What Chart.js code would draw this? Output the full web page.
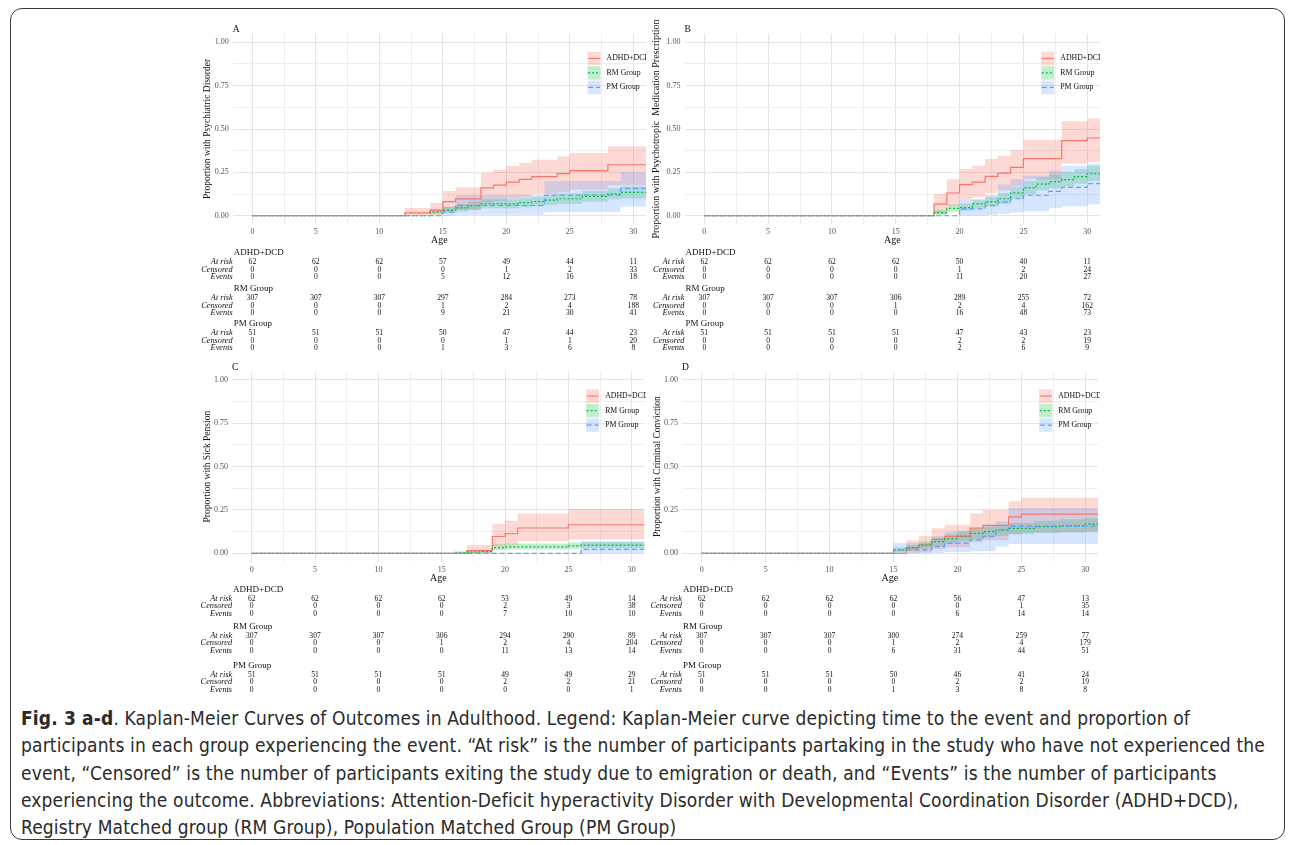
<!DOCTYPE html>
<html>
<head>
<meta charset="utf-8">
<script src="https://cdn.jsdelivr.net/npm/chart.js@4"></script>
<style>
  body { margin: 0; width: 1295px; height: 845px; background: #fff; position: relative; overflow: hidden; }
  .frame { position: absolute; left: 10px; top: 8px; width: 1275px; height: 832px; box-sizing: border-box;
           border: 1.5px solid #3a3a3a; border-radius: 12px; }
  canvas { position: absolute; }
  .caption { position: absolute; left: 21px; top: 705px; font-family: "Liberation Sans Narrow", "DejaVu Sans Condensed", "Liberation Sans", sans-serif;
             font-size: 19px; letter-spacing: 0.15px; line-height: 27.3px; color: #2a2a2a; white-space: nowrap; }
</style>
</head>
<body>
<div class="frame"></div>
<canvas id="cA" width="451" height="345" style="left:195px;top:15px"></canvas>
<canvas id="cB" width="452" height="345" style="left:648px;top:15px"></canvas>
<canvas id="cC" width="451" height="342" style="left:195px;top:356px"></canvas>
<canvas id="cD" width="452" height="342" style="left:648px;top:356px"></canvas>
<div class="caption" id="caption"><b>Fig. 3 a-d</b>. Kaplan-Meier Curves of Outcomes in Adulthood. Legend: Kaplan-Meier curve depicting time to the event and proportion of<br>participants in each group experiencing the event. “At risk” is the number of participants partaking in the study who have not experienced the<br>event, “Censored” is the number of participants exiting the study due to emigration or death, and “Events” is the number of participants<br>experiencing the outcome. Abbreviations: Attention-Deficit hyperactivity Disorder with Developmental Coordination Disorder (ADHD+DCD),<br>Registry Matched group (RM Group), Population Matched Group (PM Group)</div>
<script>
// ---- labels / ticks ----
const ages = [0, 5, 10, 15, 20, 25, 30];
const groupNames = ['ADHD+DCD', 'RM Group', 'PM Group'];
const riskRowNames = ['At risk', 'Censored', 'Events'];
const panelLetters = ['A', 'B', 'C', 'D'];
const yTitles = [
  'Proportion with Psychiatric Disorder',
  'Proportion with Psychotropic  Medication Prescription',
  'Proportion with Sick Pension',
  'Proportion with Criminal Conviction'
];
const xGridVals = [0, 2.5, 5, 7.5, 10, 12.5, 15, 17.5, 20, 22.5, 25, 27.5, 30];
const xLabelVals = [0, 5, 10, 15, 20, 25, 30];
const yGridVals = [0, 0.125, 0.25, 0.375, 0.5, 0.625, 0.75, 0.875, 1];
const yLabelVals = [0, 0.25, 0.5, 0.75, 1];

// ---- A: psychiatric disorder ----
const psychAdhdT   = [0, 12, 14, 15, 16, 18, 19, 20, 21, 22, 24, 25, 28];
const psychAdhdEst = [0, 0.016, 0.032, 0.081, 0.097, 0.161, 0.177, 0.194, 0.210, 0.226, 0.243, 0.260, 0.294];
const psychAdhdLo  = [0, 0, 0, 0.025, 0.035, 0.075, 0.085, 0.10, 0.11, 0.125, 0.135, 0.15, 0.175];
const psychAdhdHi  = [0, 0.044, 0.073, 0.143, 0.164, 0.248, 0.265, 0.286, 0.304, 0.323, 0.342, 0.362, 0.40];
const psychRmT     = [0, 14, 15, 16, 17, 18, 21, 22, 23, 24, 26, 28, 29];
const psychRmEst   = [0, 0.022, 0.031, 0.045, 0.058, 0.068, 0.076, 0.082, 0.09, 0.098, 0.112, 0.126, 0.135];
const psychRmLo    = [0, 0.008, 0.014, 0.024, 0.035, 0.043, 0.049, 0.055, 0.062, 0.068, 0.08, 0.094, 0.10];
const psychRmHi    = [0, 0.038, 0.05, 0.068, 0.083, 0.095, 0.103, 0.11, 0.12, 0.128, 0.143, 0.158, 0.168];
const psychPmT     = [0, 15, 16, 23, 29];
const psychPmEst   = [0, 0.02, 0.059, 0.118, 0.158];
const psychPmLo    = [0, 0, 0.006, 0.022, 0.052];
const psychPmHi    = [0, 0.055, 0.12, 0.20, 0.25];
const psychAdhdRisk = [[62, 62, 62, 57, 49, 44, 11], [0, 0, 0, 0, 1, 2, 33], [0, 0, 0, 5, 12, 16, 18]];
const psychRmRisk   = [[307, 307, 307, 297, 284, 273, 78], [0, 0, 0, 1, 2, 4, 188], [0, 0, 0, 9, 21, 30, 41]];
const psychPmRisk   = [[51, 51, 51, 50, 47, 44, 23], [0, 0, 0, 0, 1, 1, 20], [0, 0, 0, 1, 3, 6, 8]];

// ---- B: psychotropic medication ----
const medsAdhdT   = [0, 18, 19, 20, 21, 22, 23, 24, 25, 28, 30];
const medsAdhdEst = [0, 0.067, 0.131, 0.179, 0.194, 0.227, 0.246, 0.279, 0.329, 0.433, 0.448];
const medsAdhdLo  = [0, 0.01, 0.055, 0.09, 0.105, 0.13, 0.145, 0.17, 0.21, 0.30, 0.31];
const medsAdhdHi  = [0, 0.125, 0.21, 0.27, 0.288, 0.327, 0.346, 0.38, 0.438, 0.544, 0.56];
const medsRmT     = [0, 18, 19, 20, 21, 22, 23, 24, 25, 26, 27, 28, 29, 30];
const medsRmEst   = [0, 0.018, 0.042, 0.047, 0.068, 0.08, 0.098, 0.132, 0.16, 0.182, 0.197, 0.208, 0.226, 0.242];
const medsRmLo    = [0, 0.006, 0.022, 0.027, 0.042, 0.052, 0.068, 0.10, 0.124, 0.145, 0.158, 0.168, 0.185, 0.20];
const medsRmHi    = [0, 0.035, 0.065, 0.07, 0.095, 0.11, 0.13, 0.165, 0.20, 0.22, 0.237, 0.25, 0.27, 0.287];
const medsPmT     = [0, 20, 22, 23, 24, 25, 27, 28, 30];
const medsPmEst   = [0, 0.039, 0.059, 0.078, 0.098, 0.118, 0.14, 0.163, 0.185];
const medsPmLo    = [0, 0.002, 0.006, 0.012, 0.02, 0.025, 0.044, 0.054, 0.065];
const medsPmHi    = [0, 0.09, 0.12, 0.18, 0.21, 0.23, 0.26, 0.288, 0.30];
const medsAdhdRisk = [[62, 62, 62, 62, 50, 40, 11], [0, 0, 0, 0, 1, 2, 24], [0, 0, 0, 0, 11, 20, 27]];
const medsRmRisk   = [[307, 307, 307, 306, 289, 255, 72], [0, 0, 0, 1, 2, 4, 162], [0, 0, 0, 0, 16, 48, 73]];
const medsPmRisk   = [[51, 51, 51, 51, 47, 43, 23], [0, 0, 0, 0, 2, 2, 19], [0, 0, 0, 0, 2, 6, 9]];

// ---- C: sick pension ----
const sickAdhdT   = [0, 17, 19, 20, 21, 25];
const sickAdhdEst = [0, 0.016, 0.097, 0.113, 0.146, 0.165];
const sickAdhdLo  = [0, 0, 0.04, 0.05, 0.07, 0.08];
const sickAdhdHi  = [0, 0.048, 0.169, 0.19, 0.23, 0.255];
const sickRmT     = [0, 16, 17, 18, 19, 20, 25, 26];
const sickRmEst   = [0, 0.003, 0.007, 0.01, 0.033, 0.037, 0.043, 0.047];
const sickRmLo    = [0, 0, 0.001, 0.003, 0.019, 0.022, 0.027, 0.03];
const sickRmHi    = [0, 0.012, 0.017, 0.022, 0.052, 0.056, 0.063, 0.068];
const sickPmT     = [0, 26];
const sickPmEst   = [0, 0.023];
const sickPmLo    = [0, 0];
const sickPmHi    = [0, 0.065];
const sickAdhdRisk = [[62, 62, 62, 62, 53, 49, 14], [0, 0, 0, 0, 2, 3, 38], [0, 0, 0, 0, 7, 10, 10]];
const sickRmRisk   = [[307, 307, 307, 306, 294, 290, 89], [0, 0, 0, 1, 2, 4, 204], [0, 0, 0, 0, 11, 13, 14]];
const sickPmRisk   = [[51, 51, 51, 51, 49, 49, 29], [0, 0, 0, 0, 2, 2, 21], [0, 0, 0, 0, 0, 0, 1]];

// ---- D: criminal conviction ----
const crimeAdhdT   = [0, 16, 17, 18, 19, 21, 22, 24, 25];
const crimeAdhdEst = [0, 0.032, 0.048, 0.081, 0.097, 0.145, 0.161, 0.21, 0.226];
const crimeAdhdLo  = [0, 0, 0.005, 0.025, 0.035, 0.065, 0.075, 0.11, 0.12];
const crimeAdhdHi  = [0, 0.075, 0.10, 0.145, 0.165, 0.23, 0.25, 0.30, 0.32];
const crimeRmT     = [0, 15, 16, 17, 18, 19, 20, 21, 22, 23, 24, 26, 28, 30];
const crimeRmEst   = [0, 0.02, 0.033, 0.048, 0.067, 0.083, 0.10, 0.115, 0.125, 0.135, 0.144, 0.154, 0.16, 0.169];
const crimeRmLo    = [0, 0.006, 0.015, 0.026, 0.04, 0.055, 0.07, 0.082, 0.092, 0.10, 0.11, 0.117, 0.122, 0.128];
const crimeRmHi    = [0, 0.035, 0.05, 0.07, 0.09, 0.11, 0.13, 0.145, 0.155, 0.165, 0.175, 0.188, 0.196, 0.205];
const crimePmT     = [0, 15, 18, 19, 21, 22, 23, 24];
const crimePmEst   = [0, 0.02, 0.039, 0.059, 0.078, 0.098, 0.137, 0.157];
const crimePmLo    = [0, 0, 0.002, 0.008, 0.012, 0.013, 0.038, 0.054];
const crimePmHi    = [0, 0.06, 0.10, 0.125, 0.14, 0.16, 0.185, 0.26];
const crimeAdhdRisk = [[62, 62, 62, 62, 56, 47, 13], [0, 0, 0, 0, 0, 1, 35], [0, 0, 0, 0, 6, 14, 14]];
const crimeRmRisk   = [[307, 307, 307, 300, 274, 259, 77], [0, 0, 0, 1, 2, 4, 179], [0, 0, 0, 6, 31, 44, 51]];
const crimePmRisk   = [[51, 51, 51, 50, 46, 41, 24], [0, 0, 0, 0, 2, 2, 19], [0, 0, 0, 1, 3, 8, 8]];

const followUpEnd = 31.6;

// ---- styling ----
const SERIF = '"Liberation Serif", "DejaVu Serif", serif';
Chart.defaults.font.family = SERIF;
const lineColors = ['#F8766D', '#00BA38', '#619CFF'];
const bandColors = ['rgba(248,118,109,0.28)', 'rgba(0,186,56,0.24)', 'rgba(97,156,255,0.25)'];
const lineDashes = [[], [2, 2], [5, 3]];

const panels = [
  { id: 'cA', curves: [[psychAdhdT, psychAdhdEst, psychAdhdLo, psychAdhdHi], [psychRmT, psychRmEst, psychRmLo, psychRmHi], [psychPmT, psychPmEst, psychPmLo, psychPmHi]],
    risk: [psychAdhdRisk, psychRmRisk, psychPmRisk] },
  { id: 'cB', curves: [[medsAdhdT, medsAdhdEst, medsAdhdLo, medsAdhdHi], [medsRmT, medsRmEst, medsRmLo, medsRmHi], [medsPmT, medsPmEst, medsPmLo, medsPmHi]],
    risk: [medsAdhdRisk, medsRmRisk, medsPmRisk] },
  { id: 'cC', curves: [[sickAdhdT, sickAdhdEst, sickAdhdLo, sickAdhdHi], [sickRmT, sickRmEst, sickRmLo, sickRmHi], [sickPmT, sickPmEst, sickPmLo, sickPmHi]],
    risk: [sickAdhdRisk, sickRmRisk, sickPmRisk] },
  { id: 'cD', curves: [[crimeAdhdT, crimeAdhdEst, crimeAdhdLo, crimeAdhdHi], [crimeRmT, crimeRmEst, crimeRmLo, crimeRmHi], [crimePmT, crimePmEst, crimePmLo, crimePmHi]],
    risk: [crimeAdhdRisk, crimeRmRisk, crimePmRisk] }
];

// placement of each panel (canvas box + wanted plot area, page coords)
const boxes = [
  { left: 195, top: 15,  w: 451, h: 345, plotL: 232.7, plotR: 646,    plotT: 33.6,  plotB: 224.4, titlePad: 7, blocks: [28.6, 64.6, 99.6], rows: [9, 16.5, 24] },
  { left: 648, top: 15,  w: 452, h: 345, plotL: 684.5, plotR: 1100,   plotT: 33.6,  plotB: 224.4, titlePad: 2, blocks: [28.6, 64.6, 99.6], rows: [9, 16.5, 24] },
  { left: 195, top: 356, w: 451, h: 342, plotL: 232.1, plotR: 644.4,  plotT: 371.3, plotB: 562,   titlePad: 7, blocks: [28, 65, 104],     rows: [9, 16, 24] },
  { left: 648, top: 356, w: 452, h: 342, plotL: 681.9, plotR: 1098,   plotT: 371.3, plotB: 562,   titlePad: 4, blocks: [28, 65, 104],     rows: [9, 16, 24] }
];
const X_AXIS_H = 22;

const near = (list, v) => list.some(l => Math.abs(l - v) < 1e-6);

function steps(t, v) {
  const pts = t.map((x, i) => ({ x, y: v[i] }));
  pts.push({ x: followUpEnd, y: v[v.length - 1] });
  return pts;
}

// panel letter, in-plot legend and the risk table under the axis
const kmExtras = {
  id: 'kmExtras',
  afterDraw(chart, args, opts) {
    const { ctx, chartArea } = chart;
    const xs = chart.scales.x, ys = chart.scales.y;
    ctx.save();
    ctx.fillStyle = '#111';
    ctx.font = '9.5px ' + SERIF;
    ctx.textAlign = 'left';
    ctx.textBaseline = 'alphabetic';
    ctx.fillText(opts.letter, chartArea.left, chartArea.top - 1.5);

    // legend
    const keyL = xs.getPixelForValue(26.4);
    let keyT = ys.getPixelForValue(0.946);
    groupNames.forEach((name, g) => {
      ctx.fillStyle = bandColors[g];
      ctx.fillRect(keyL, keyT, 13, 13.5);
      ctx.strokeStyle = lineColors[g];
      ctx.lineWidth = 1.1;
      ctx.setLineDash(lineDashes[g]);
      ctx.beginPath();
      ctx.moveTo(keyL + 0.5, keyT + 6.75);
      ctx.lineTo(keyL + 12.5, keyT + 6.75);
      ctx.stroke();
      ctx.setLineDash([]);
      ctx.fillStyle = '#111';
      ctx.font = '7.8px ' + SERIF;
      ctx.textBaseline = 'middle';
      ctx.fillText(name, keyL + 19, keyT + 6.75);
      keyT += 14.5;
    });

    // risk table
    const base = chartArea.bottom;
    opts.blocks.forEach((off, g) => {
      ctx.fillStyle = '#111';
      ctx.textBaseline = 'middle';
      ctx.textAlign = 'left';
      ctx.font = '9px ' + SERIF;
      ctx.fillText(groupNames[g], chartArea.left + 1, base + off);
      riskRowNames.forEach((rn, r) => {
        const y = base + off + opts.rows[r];
        ctx.textAlign = 'right';
        ctx.font = 'italic 8.3px ' + SERIF;
        ctx.fillText(rn, chartArea.left, y);
        ctx.textAlign = 'center';
        ctx.font = '7.6px ' + SERIF;
        ages.forEach((a, i) => ctx.fillText(String(opts.risk[g][r][i]), xs.getPixelForValue(a), y));
      });
    });
    ctx.restore();
  }
};

panels.forEach((p, k) => {
  const b = boxes[k];
  const datasets = [];
  p.curves.forEach(([t, est, lo, hi], g) => {
    datasets.push({ label: groupNames[g] + ' upper', data: steps(t, hi), stepped: 'before', borderColor: 'rgba(0,0,0,0)',
      borderWidth: 0, pointRadius: 0, fill: '+1', backgroundColor: bandColors[g], order: 12 - g });
    datasets.push({ label: groupNames[g] + ' lower', data: steps(t, lo), stepped: 'before', borderColor: 'rgba(0,0,0,0)',
      borderWidth: 0, pointRadius: 0, fill: false, order: 12 - g });
  });
  p.curves.forEach(([t, est], g) => {
    datasets.push({ label: groupNames[g], data: steps(t, est), stepped: 'before', borderColor: lineColors[g],
      borderWidth: 1.2, borderDash: lineDashes[g], pointRadius: 0, fill: false, order: 2 - g });
  });

  new Chart(document.getElementById(p.id), {
    type: 'line',
    data: { datasets },
    plugins: [kmExtras],
    options: {
      responsive: false,
      animation: false,
      events: [],
      layout: { padding: { left: 0, top: b.plotT - b.top, right: (b.left + b.w) - b.plotR, bottom: (b.top + b.h) - b.plotB - X_AXIS_H } },
      plugins: {
        legend: { display: false },
        tooltip: { enabled: false },
        filler: { propagate: false },
        kmExtras: { letter: panelLetters[k], risk: p.risk, blocks: b.blocks, rows: b.rows }
      },
      scales: {
        x: {
          type: 'linear', min: -1.55, max: 31,
          afterBuildTicks: s => { s.ticks = xGridVals.map(v => ({ value: v })); },
          afterFit: s => { s.height = X_AXIS_H; },
          border: { display: false },
          grid: { drawTicks: false, color: c => near(xLabelVals, c.tick.value) ? '#E4E4E4' : '#EEEEEE', lineWidth: 1 },
          ticks: { autoSkip: false, maxRotation: 0, padding: 3, color: '#555', font: { size: 8 },
                   callback: v => near(xLabelVals, v) ? String(v) : '' },
          title: { display: true, text: 'Age', color: '#111', font: { size: 10 }, padding: { top: 0, bottom: 0 } }
        },
        y: {
          type: 'linear', min: -0.05, max: 1.05,
          afterBuildTicks: s => { s.ticks = yGridVals.map(v => ({ value: v })); },
          afterFit: s => { s.width = b.plotL - b.left; },
          border: { display: false },
          grid: { drawTicks: false, color: c => near(yLabelVals, c.tick.value) ? '#E4E4E4' : '#EEEEEE', lineWidth: 1 },
          ticks: { autoSkip: false, padding: 4, color: '#555', font: { size: 8 },
                   callback: v => near(yLabelVals, v) ? v.toFixed(2) : '' },
          title: { display: true, text: yTitles[k], color: '#111', font: { size: k === 1 ? 10 : 9.5 }, padding: { top: b.titlePad, bottom: 0 } }
        }
      }
    }
  });
});
</script>
</body>
</html>
